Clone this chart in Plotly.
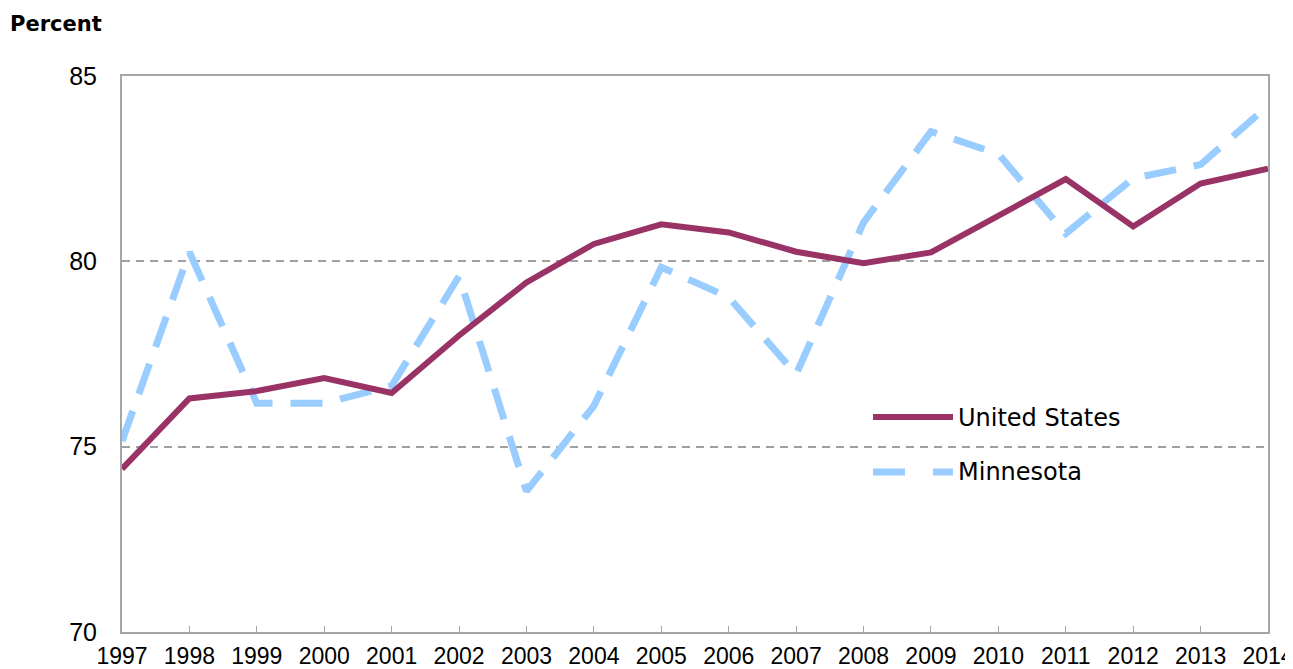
import plotly.graph_objects as go

years = list(range(1997, 2015))
us_values = [74.4, 76.3, 76.5, 76.85, 76.45, 78.0, 79.43, 80.47, 81.0, 80.78,
             80.26, 79.95, 80.24, 81.23, 82.22, 80.94, 82.1, 82.5]
mn_values = [75.15, 80.25, 76.17, 76.17, 76.64, 79.6, 73.8, 76.1, 79.84, 79.03,
             76.95, 81.05, 83.5, 82.9, 80.75, 82.24, 82.61, 84.2]
y_ticks = [70, 75, 80, 85]
series_names = ["United States", "Minnesota"]

US_COLOR = "#993366"
MN_COLOR = "#99CCFF"
AXIS_COLOR = "#A6A6A6"
FONT = "Liberation Sans, Arial, sans-serif"
WIDE = "DejaVu Sans, Verdana, sans-serif"

fig = go.Figure()
fig.add_trace(go.Scatter(x=years, y=mn_values, mode="lines", name=series_names[1],
                         line=dict(color=MN_COLOR, width=7, dash="32px,18px"),
                         showlegend=False))
fig.add_trace(go.Scatter(x=years, y=us_values, mode="lines", name=series_names[0],
                         line=dict(color=US_COLOR, width=6),
                         showlegend=False))

W, H = 1293, 669
OFF = 8  # page body margin
L, T = 122 - OFF, 76 - OFF
R = W - (1268 - OFF)
B = H - (632 - OFF)
pw, ph = W - L - R, H - T - B

def px(page_x):
    return (page_x - OFF - L) / pw

def py(page_y):
    return (H - B - (page_y - OFF)) / ph

# custom legend keys (long line samples like the reference)
fig.add_shape(type="line", xref="paper", yref="paper",
              x0=px(873), x1=px(953), y0=py(417), y1=py(417),
              line=dict(color=US_COLOR, width=6))
fig.add_shape(type="line", xref="paper", yref="paper",
              x0=px(873), x1=px(953), y0=py(472), y1=py(472),
              line=dict(color=MN_COLOR, width=7, dash="32px,28px"))
fig.add_annotation(xref="paper", yref="paper", x=px(956), y=py(418),
                   text=series_names[0], showarrow=False, xanchor="left", yanchor="middle",
                   font=dict(family=WIDE, size=24, color="#000000"))
fig.add_annotation(xref="paper", yref="paper", x=px(956), y=py(472),
                   text=series_names[1], showarrow=False, xanchor="left", yanchor="middle",
                   font=dict(family=WIDE, size=24, color="#000000"))

fig.add_annotation(xref="paper", yref="paper", x=px(8), y=py(24),
                   text="<b>Percent</b>", showarrow=False, xanchor="left", yanchor="middle",
                   font=dict(family=WIDE, size=21, color="#000000"))

fig.update_layout(
    width=W, height=H,
    margin=dict(l=L, r=R, t=T, b=B, autoexpand=False),
    paper_bgcolor="white", plot_bgcolor="white",
    font=dict(family=FONT, size=24, color="#000000"),
    showlegend=False,
)
fig.update_xaxes(
    range=[1997, 2014], tickvals=years, ticktext=[str(y) for y in years],
    showgrid=False, showline=True, linecolor=AXIS_COLOR, linewidth=2, mirror=True,
    ticks="inside", ticklen=6, tickcolor=AXIS_COLOR, tickwidth=1,
    tickfont=dict(size=23), zeroline=False, ticklabelstandoff=2, automargin=False,
)
fig.update_yaxes(
    range=[70, 85], tickvals=y_ticks, ticktext=[str(v) for v in y_ticks],
    showgrid=True, gridcolor="#A0A0A0", gridwidth=1.5, griddash="8px,6px",
    showline=True, linecolor=AXIS_COLOR, linewidth=2, mirror=True,
    ticks="", tickfont=dict(size=25), zeroline=False, ticklabelstandoff=18, automargin=False,
)

fig.write_html("out.html")
